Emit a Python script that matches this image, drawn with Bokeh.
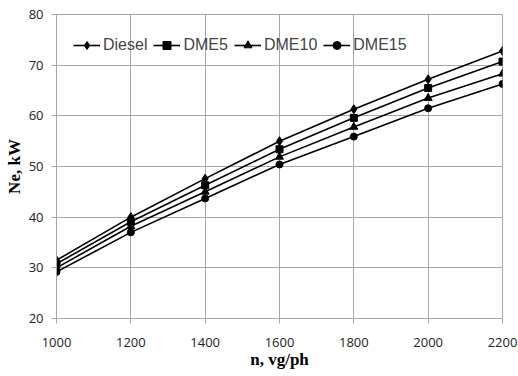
from bokeh.plotting import figure
from bokeh.embed import file_html
from bokeh.resources import INLINE
from bokeh.models import Legend, LegendItem, FixedTicker, Range1d

n_speed = [1000, 1200, 1400, 1600, 1800, 2000, 2200]
diesel = [31.5, 40.0, 47.6, 55.0, 61.3, 67.2, 72.8]
dme5 = [30.8, 39.1, 46.3, 53.4, 59.6, 65.5, 70.7]
dme10 = [30.0, 38.2, 45.0, 51.9, 57.8, 63.5, 68.3]
dme15 = [29.2, 37.0, 43.7, 50.4, 55.9, 61.5, 66.3]
series_names = ["Diesel", "DME5", "DME10", "DME15"]
x_ticks = [1000, 1200, 1400, 1600, 1800, 2000, 2200]
y_ticks = [20, 30, 40, 50, 60, 70, 80]

p = figure(width=518, height=376, output_backend="svg", toolbar_location=None,
           x_range=Range1d(1000, 2200), y_range=Range1d(20, 80),
           min_border_left=56, min_border_right=16, min_border_top=14, min_border_bottom=58)
p.background_fill_color = "white"
p.border_fill_color = "white"
p.outline_line_color = "#a6a6a6"

grid_col = "#a6a6a6"
p.xgrid.grid_line_color = grid_col
p.ygrid.grid_line_color = grid_col
p.xaxis.ticker = FixedTicker(ticks=x_ticks)
p.yaxis.ticker = FixedTicker(ticks=y_ticks)
for ax in (p.xaxis[0], p.yaxis[0]):
    ax.axis_line_color = grid_col
    ax.major_tick_line_color = grid_col
    ax.major_tick_out = 5
    ax.major_tick_in = 0
    ax.minor_tick_line_color = None
    ax.major_label_text_font = "Open Sans"
    ax.major_label_text_font_size = "13px"
    ax.major_label_text_color = "#222222"
    ax.axis_label_text_font = "Liberation Serif"
    ax.axis_label_text_font_style = "bold"
    ax.axis_label_text_font_size = "17px"
    ax.axis_label_text_color = "black"
p.xaxis.axis_label = "n, vg/ph"
p.yaxis.axis_label = "Ne, kW"
p.xaxis.major_label_standoff = 14
p.yaxis.major_label_standoff = 8
p.xaxis.axis_label_standoff = 0
p.yaxis.axis_label_standoff = 2

items = []
data = [diesel, dme5, dme10, dme15]
markers = ["diamond", "square", "triangle", "circle"]
sizes = [9, 7, 8, 7]
for name, ys, m, s in zip(series_names, data, markers, sizes):
    r1 = p.line(n_speed, ys, line_color="black", line_width=1.6)
    r2 = p.scatter(n_speed, ys, marker=m, size=s, fill_color="black", line_color="black")
    items.append(LegendItem(label=name, renderers=[r1, r2]))

legend = Legend(items=items, orientation="horizontal", location=(17, 263),
                background_fill_alpha=0, border_line_color=None,
                label_text_font="Liberation Sans", label_text_font_size="16px",
                glyph_width=27, glyph_height=20, label_height=20,
                label_standoff=3, spacing=6, padding=0, margin=0)
p.add_layout(legend, "center")

open("out.html", "w").write(file_html(p, INLINE))
